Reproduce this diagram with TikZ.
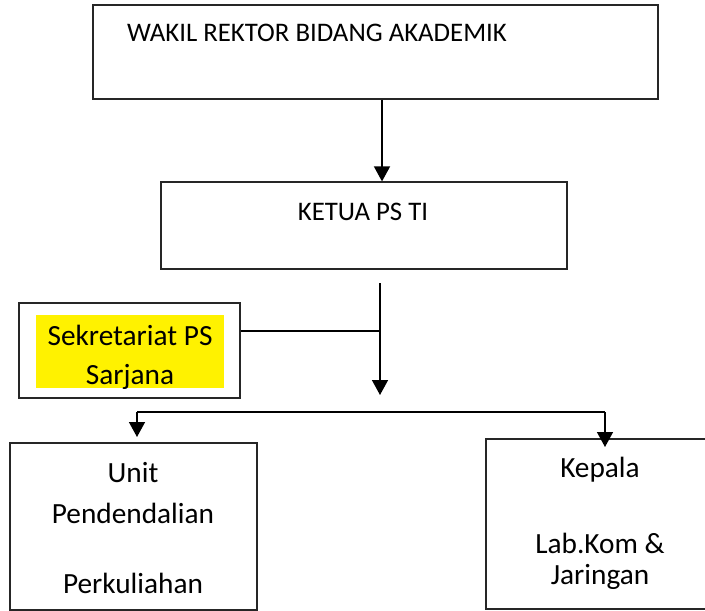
\documentclass[tikz,border=0pt]{standalone}
\usepackage{fontspec}
\setmainfont{Carlito}
\usetikzlibrary{arrows.meta}
\begin{document}
\begin{tikzpicture}[x=1pt,y=-1pt,
  box/.style={draw=black!85,line width=1.2pt,rectangle,inner sep=0pt},
  lbl/.style={inner sep=0pt,font=\fontsize{29.3}{33}\selectfont},
  lbltop/.style={inner sep=0pt,font=\fontsize{26.8}{31}\selectfont},
  conn/.style={line width=1.5pt,black},
  arr/.style={conn,-{Triangle[length=15pt,width=16pt]}}]
\useasboundingbox (0,0) rectangle (705,611);
% boxes
\node[box,minimum width=565pt,minimum height=94pt] (wakil) at (375.5,52) {};
\node[lbltop,anchor=west] (wakiltxt) at (127,33) {WAKIL REKTOR BIDANG AKADEMIK};
\node[box,minimum width=406pt,minimum height=87pt] (ketua) at (364,225.5) {};
\node[lbltop] (ketuatxt) at (363,212) {KETUA PS TI};
\node[box,minimum width=221pt,minimum height=95pt] (sek) at (129.5,350.5) {};
\node[fill=yellow,inner sep=0pt,minimum width=188pt,minimum height=73pt] (hl) at (130,351.5) {};
\node[lbl] (sek1) at (130,335) {Sekretariat PS};
\node[lbl] (sek2) at (130,377) {Sarjana};
\node[box,minimum width=247pt,minimum height=167pt] (unit) at (133.5,526.5) {};
\node[lbl] (unit1) at (133,473) {Unit};
\node[lbl] (unit2) at (133,513) {Pendendalian};
\node[lbl] (unit3) at (133,583) {Perkuliahan};
\node[box,minimum width=254pt,minimum height=170pt] (kep) at (613,524) {};
\node[lbl] (kep1) at (600,470) {Kepala};
\node[lbl] (kep2) at (600,543) {Lab.Kom \&};
\node[lbl] (kep3) at (600,577) {Jaringan};
% connector points
\coordinate (c1) at (382,0);
\coordinate (m1) at (380,283);
\coordinate (m2) at (380,395);
\coordinate (j) at (380,331);
\coordinate (hlft) at (137,412);
\coordinate (hrgt) at (605,412);
\coordinate (tl) at (137,437);
\coordinate (tr) at (605,447);
% connectors
\draw[arr] (wakil.south -| c1) -- (ketua.north -| c1);
\draw[arr] (m1) -- (m2);
\draw[conn] (sek.east |- j) -- (j);
\draw[conn] (hlft) -- (hrgt);
\draw[arr] (hlft) -- (tl);
\draw[arr] (hrgt) -- (tr);
\end{tikzpicture}
\end{document}
